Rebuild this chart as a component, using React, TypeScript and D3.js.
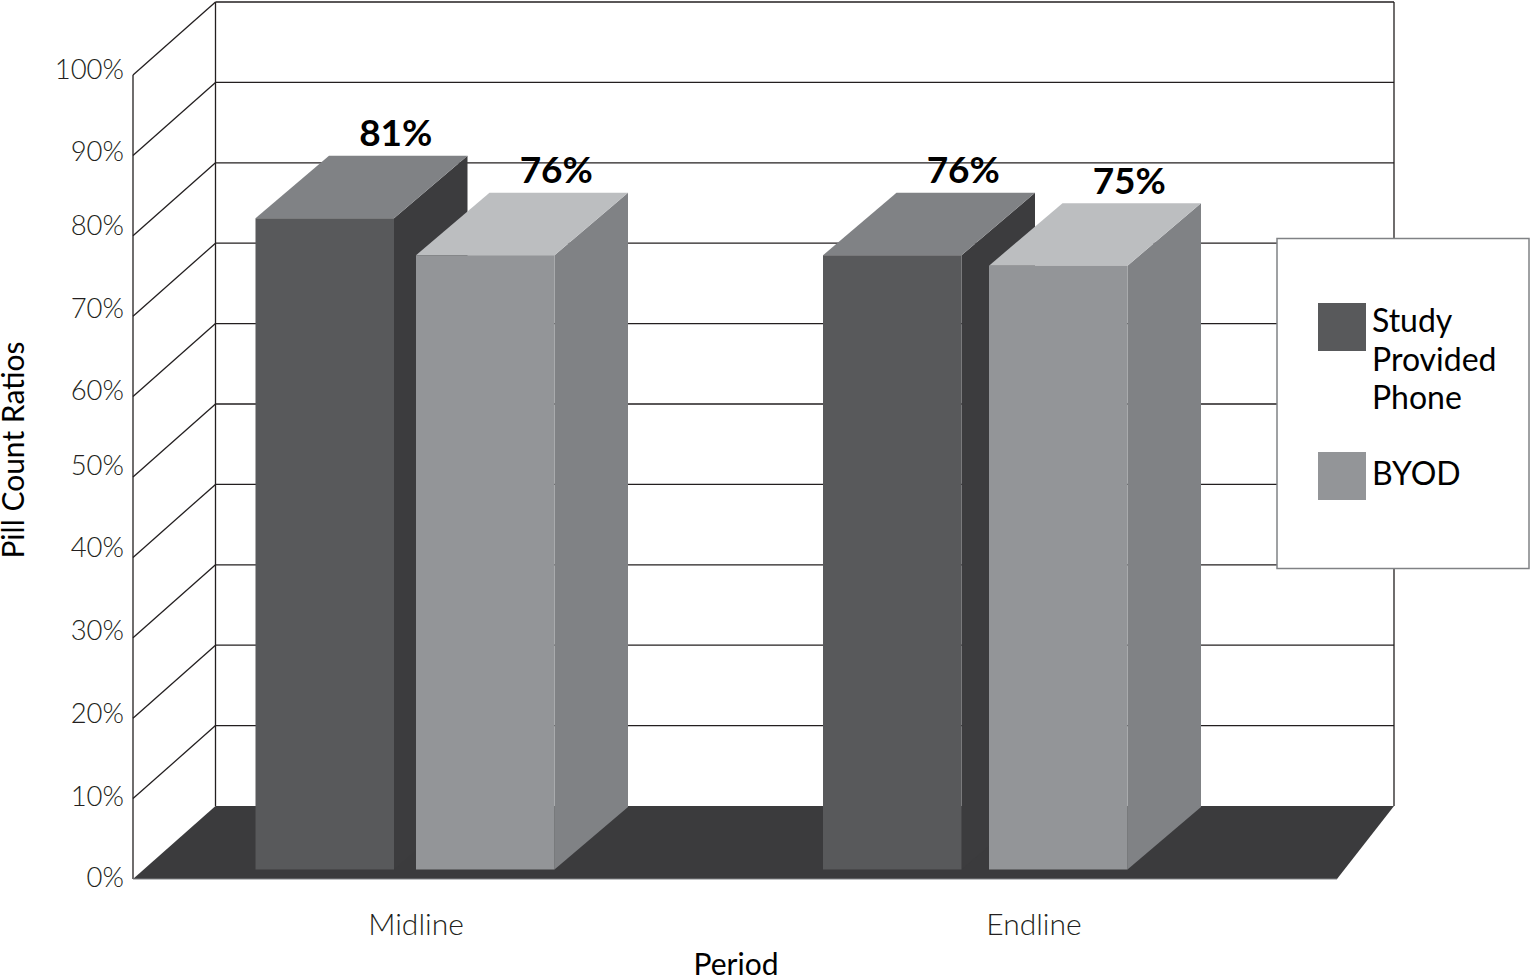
import React from 'react';
import * as d3 from 'd3';

const WIDTH = 1530;
const HEIGHT = 977;

const periods = ['Midline', 'Endline'];
const seriesNames = ['Study Provided Phone', 'BYOD'];
const studyPhone = [81, 76.4];
const byod = [76.4, 75.1];
const yTicks = [0, 10, 20, 30, 40, 50, 60, 70, 80, 90, 100];

const FONT = 'Lato, "Open Sans", sans-serif';

const depthX = 73.5;
const depthY = 62.5;
const barWidth = 138.5;

// one y scale per plane of the fake 3d box
const yFront = d3.scaleLinear().domain([0, 100]).range([879, 75]);
const yBack = d3.scaleLinear().domain([0, 100]).range([806, 2]);
const yBar = d3.scaleLinear().domain([0, 100]).range([869.5, 65.5]);
const yTickLabel = d3
  .scaleOrdinal<number, number>()
  .domain(yTicks)
  .range([877, 796, 713, 630, 547, 465, 390, 308, 225, 151, 69]);

const barKeys = periods.flatMap((p) => seriesNames.map((s) => `${p}|${s}`));
const xBar = d3.scaleOrdinal<string, number>().domain(barKeys).range([255.5, 416, 823, 989]);
const xPeriod = d3.scaleOrdinal<string, number>().domain(periods).range([416, 1034]);

const colors: Record<string, { front: string; side: string; top: string }> = {
  [seriesNames[0]]: { front: '#58595b', side: '#3c3c3e', top: '#808285' },
  [seriesNames[1]]: { front: '#939598', side: '#808285', top: '#bcbec0' },
};

const poly = d3.line().curve(d3.curveLinearClosed);
const pct = (v: number) => `${d3.format('.0f')(v)}%`;

const bars = periods.flatMap((period, i) => [
  { period, series: seriesNames[0], value: studyPhone[i] },
  { period, series: seriesNames[1], value: byod[i] },
]);

const legendRows = [
  { series: seriesNames[0], lines: ['Study', 'Provided', 'Phone'], swatchY: 303, textY: 332 },
  { series: seriesNames[1], lines: ['BYOD'], swatchY: 452, textY: 485 },
];

const App: React.FC = () => {
  const left = 133;
  const backLeft = 215.5;
  const backRight = 1394;
  const frontRight = 1337;

  return (
    <svg
      width={WIDTH}
      height={HEIGHT}
      viewBox={`0 0 ${WIDTH} ${HEIGHT}`}
      style={{ position: 'absolute', left: 0, top: 0, background: '#fff' }}
      fontFamily={FONT}
    >
      {/* walls */}
      <g stroke="#231f20" strokeWidth={1.3} fill="none">
        {yTicks.slice(1).map((t) => (
          <g key={t}>
            <line x1={backLeft} x2={backRight} y1={yBack(t)} y2={yBack(t)} />
            <line x1={left} x2={backLeft} y1={yFront(t)} y2={yBack(t)} />
          </g>
        ))}
        <line x1={left} x2={left} y1={yFront(0)} y2={yFront(100)} />
        <line x1={backLeft} x2={backLeft} y1={yBack(0)} y2={yBack(100)} />
        <line x1={backRight} x2={backRight} y1={yBack(0)} y2={yBack(100)} />
      </g>

      {/* floor */}
      <path
        d={
          poly([
            [left, yFront(0)],
            [backLeft, yBack(0)],
            [backRight, yBack(0)],
            [frontRight, yFront(0)],
          ]) as string
        }
        fill="#3b3b3d"
      />
      <line x1={left} x2={frontRight} y1={yFront(0)} y2={yFront(0)} stroke="#808285" strokeWidth={1.2} />

      {/* bars */}
      {bars.map((b) => {
        const x0 = xBar(`${b.period}|${b.series}`);
        const x1 = x0 + barWidth;
        const yTop = yBar(b.value);
        const yBase = yBar(0);
        const c = colors[b.series];
        return (
          <g key={`${b.period}-${b.series}`}>
            <path
              d={
                poly([
                  [x1, yTop],
                  [x1 + depthX, yTop - depthY],
                  [x1 + depthX, yBase - depthY],
                  [x1, yBase],
                ]) as string
              }
              fill={c.side}
            />
            <path
              d={
                poly([
                  [x0, yTop],
                  [x0 + depthX, yTop - depthY],
                  [x1 + depthX, yTop - depthY],
                  [x1, yTop],
                ]) as string
              }
              fill={c.top}
            />
            <rect x={x0} y={yTop} width={barWidth} height={yBase - yTop} fill={c.front} />
          </g>
        );
      })}

      {/* value labels */}
      {bars.map((b) => (
        <text
          key={`label-${b.period}-${b.series}`}
          x={xBar(`${b.period}|${b.series}`) + barWidth / 2 + 71}
          y={yBar(b.value) - 72}
          textAnchor="middle"
          fontSize={37}
          fontWeight={700}
          fill="#000"
        >
          {pct(b.value)}
        </text>
      ))}

      {/* y tick labels */}
      {yTicks.map((t) => (
        <text
          key={t}
          x={124}
          y={yTickLabel(t) + 10}
          textAnchor="end"
          fontSize={27.5}
          fontWeight={300}
          fill="#231f20"
        >
          {t}%
        </text>
      ))}

      {/* x labels */}
      {periods.map((p) => (
        <text key={p} x={xPeriod(p)} y={935} textAnchor="middle" fontSize={30} fontWeight={300} fill="#231f20">
          {p}
        </text>
      ))}

      <text x={736} y={975} textAnchor="middle" fontSize={30} fill="#000">
        Period
      </text>
      <text transform="translate(24,450) rotate(-90)" textAnchor="middle" fontSize={30} fill="#000">
        Pill Count Ratios
      </text>

      {/* legend */}
      <rect x={1277} y={238.5} width={252} height={330} fill="#fff" stroke="#808285" strokeWidth={1.5} />
      {legendRows.map((row) => (
        <g key={row.series}>
          <rect x={1318} y={row.swatchY} width={48} height={48} fill={colors[row.series].front} />
          {row.lines.map((line, i) => (
            <text key={line} x={1372} y={row.textY + i * 38.5} fontSize={32} fill="#000">
              {line}
            </text>
          ))}
        </g>
      ))}
    </svg>
  );
};

export default App;
